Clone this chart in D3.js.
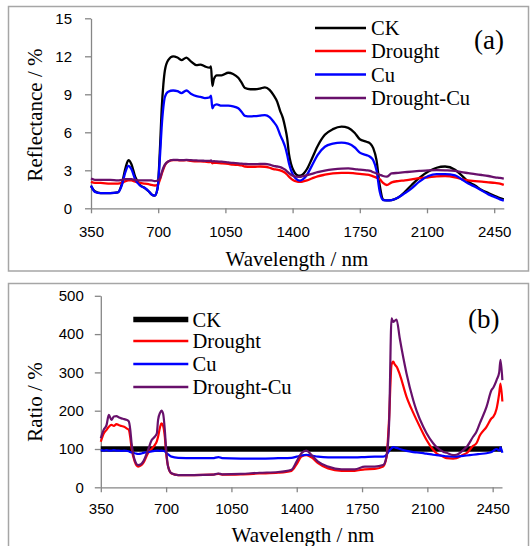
<!DOCTYPE html>
<html>
<head>
<meta charset="utf-8">
<script src="https://cdn.jsdelivr.net/npm/d3@7"></script>
<style>
  html, body { margin: 0; padding: 0; background: #fff; }
  svg { display: block; }
  .tick text { font-family: "Liberation Sans", Arial, sans-serif; font-size: 15px; fill: #000; }
  .axis path, .axis line { stroke: #868686; stroke-width: 1.3; }
  .serif { font-family: "Liberation Serif", "Times New Roman", serif; fill: #000; }
</style>
</head>
<body>
<script>
// ---------- DATA ----------
const seriesNames = ["CK", "Drought", "Cu", "Drought-Cu"];
const seriesColors = ["#000000", "#ff0000", "#0000ff", "#68106b"];

const xTicks = [350, 700, 1050, 1400, 1750, 2100, 2450];
const yTicksA = [0, 3, 6, 9, 12, 15];
const yTicksB = [0, 100, 200, 300, 400, 500];

// Panel (a): reflectance (%)
const wavelengthA = [350,370,400,450,490,510,530,545,560,580,605,630,650,665,682,697,710,718,727,735,752,778,800,821,847,870,899,920,943,968,975,982,990,1005,1030,1065,1090,1117,1135,1152,1180,1205,1230,1256,1280,1300,1320,1335,1350,1361,1372,1381,1392,1404,1420,1438,1455,1475,1500,1530,1568,1610,1655,1690,1724,1750,1785,1805,1820,1837,1854,1871,1890,1916,1950,1985,2020,2060,2107,2150,2194,2246,2280,2315,2350,2385,2420,2454,2480,2500];
const reflCK = [1.75,1.35,1.2,1.2,1.25,1.9,3.2,3.8,3.5,2.5,1.85,1.6,1.35,1.1,1.0,1.6,5.0,7.8,9.8,10.9,11.7,12.0,11.9,11.7,11.9,11.6,11.3,11.35,11.2,11.1,11.2,9.65,10.2,10.5,10.5,10.7,10.6,10.3,9.9,9.5,9.4,9.4,9.45,9.55,9.35,8.95,8.4,7.7,7.1,6.4,5.5,4.3,3.5,3.0,2.65,2.57,2.7,3.1,3.9,4.9,5.8,6.25,6.45,6.35,5.95,5.45,5.26,5.1,4.75,3.8,1.8,0.7,0.62,0.65,0.85,1.3,1.84,2.4,2.9,3.2,3.3,3.05,2.6,2.1,1.8,1.44,1.2,0.97,0.8,0.7];
const reflDrought = [2.1,2.0,2.0,1.95,1.95,2.0,2.15,2.2,2.2,2.1,2.0,1.95,1.9,1.85,1.8,1.85,2.3,2.7,3.1,3.4,3.7,3.8,3.8,3.78,3.8,3.75,3.7,3.7,3.68,3.65,3.7,3.55,3.6,3.58,3.55,3.5,3.45,3.42,3.38,3.3,3.28,3.28,3.3,3.28,3.2,3.1,3.05,3.0,2.9,2.8,2.65,2.5,2.35,2.22,2.12,2.08,2.12,2.2,2.35,2.52,2.65,2.76,2.8,2.8,2.76,2.72,2.66,2.6,2.52,2.42,2.3,2.0,1.84,2.05,2.15,2.2,2.28,2.38,2.45,2.52,2.55,2.45,2.3,2.2,2.15,2.1,2.05,2.0,1.95,1.85];
const reflCu = [1.8,1.3,1.2,1.2,1.25,1.8,2.9,3.35,3.1,2.3,1.8,1.6,1.35,1.1,1.0,1.6,4.3,6.4,8.0,8.8,9.2,9.3,9.25,9.1,9.3,9.05,8.85,8.8,8.7,8.75,8.9,7.9,8.1,8.2,8.1,8.1,8.05,7.9,7.6,7.3,7.25,7.28,7.32,7.36,7.2,6.85,6.4,5.8,5.3,4.86,4.2,3.55,3.0,2.6,2.3,2.18,2.3,2.65,3.35,4.2,4.86,5.1,5.18,5.1,4.8,4.4,4.2,4.05,3.8,3.0,1.3,0.65,0.62,0.65,0.85,1.2,1.58,2.1,2.55,2.7,2.7,2.6,2.3,1.95,1.7,1.4,1.1,0.88,0.7,0.6];
const reflDroughtCu = [2.35,2.25,2.25,2.25,2.2,2.25,2.3,2.3,2.3,2.25,2.2,2.2,2.2,2.2,2.15,2.2,2.4,2.8,3.2,3.45,3.7,3.82,3.82,3.8,3.82,3.8,3.78,3.76,3.75,3.74,3.78,3.7,3.72,3.7,3.68,3.62,3.58,3.55,3.52,3.5,3.48,3.48,3.5,3.5,3.45,3.35,3.3,3.25,3.15,3.05,2.9,2.78,2.65,2.55,2.5,2.48,2.55,2.62,2.72,2.85,2.98,3.08,3.14,3.15,3.1,3.05,3.0,2.95,2.85,2.75,2.65,2.55,2.5,2.75,2.8,2.85,2.9,2.95,3.0,3.02,3.0,2.95,2.85,2.78,2.7,2.63,2.55,2.45,2.4,2.35];

// Panel (b): ratio to CK (%)
const ratioCKWavelength = [350, 2500];
const ratioCK = [100, 100];
const wavelengthB = [350,365,381,393,407,420,434,448,461,475,488,500,508,515,532,550,565,577,603,622,639,650,657,668,675,684,693,700,711,729,765,850,950,980,1000,1100,1200,1300,1372,1399,1425,1452,1479,1514,1568,1640,1711,1765,1818,1863,1881,1895,1908,1917,1926,1935,1952,1988,2024,2042,2078,2095,2131,2149,2185,2203,2238,2256,2292,2310,2345,2363,2381,2417,2444,2453,2471,2485,2492,2502];
const ratioDrought = [119,140,150,158,163,160,165,162,160,158,154,150,130,102,67,54,57,63,89,100,110,120,132,158,167,160,132,90,54,36,32,32,33,35,33,34,36,38,43,60,80,84,78,63,49,43,43,47,48,54,79,180,320,328,320,315,295,237,195,176,140,124,98,89,80,76,75,76,85,89,108,115,135,158,180,184,205,245,271,224];
const ratioCu = [97,96,97,96,96,97,96,96,95,96,95,94,92,91,89,87,88,90,92,94,95,96,96,95,96,95,94,90,86,80,77,76,76,79,76,75,75,76,77,80,83,85,83,80,78,78,78,79,80,80,85,95,102,105,104,103,100,95,92,91,89,88,85,84,82,81,80,80,82,83,85,86,87,89,92,95,100,96,104,90];
const ratioDroughtCu = [128,150,163,189,176,185,186,182,180,178,176,172,150,115,71,58,60,67,97,123,132,140,176,195,200,192,150,100,53,36.5,32,32,33,36,34,35,38,40,46,67,89,96,84,67,54,47,47,54,54,58,80,167,441,432,435,438,389,298,228,200,158,142,115,105,93,90,84,85,97,105,132,145,167,210,254,260,280,300,333,280];

// ---------- DRAW ----------
const W = 531, H = 546;
const svg = d3.select("body").append("svg").attr("width", W).attr("height", H);

// panel boxes
svg.append("rect").attr("x", 8.5).attr("y", 6.5).attr("width", 520).attr("height", 264.5)
  .attr("fill", "none").attr("stroke", "#a6a6a6").attr("stroke-width", 1.5);
svg.append("rect").attr("x", 8.5).attr("y", 283.5).attr("width", 520).attr("height", 270)
  .attr("fill", "none").attr("stroke", "#a6a6a6").attr("stroke-width", 1.5);

function panel(cfg) {
  const x = d3.scaleLinear().domain([350, 2500]).range([cfg.x0, cfg.x1]);
  const y = d3.scaleLinear().domain(cfg.yDomain).range([cfg.y0, cfg.y1]);
  const g = svg.append("g");

  g.append("g").attr("class", "axis").attr("transform", `translate(0,${cfg.y0})`)
    .call(d3.axisBottom(x).tickValues(xTicks).tickFormat(d3.format("d"))
      .tickSize(5).tickSizeOuter(0).tickPadding(cfg.xPad));
  g.append("g").attr("class", "axis").attr("transform", `translate(${cfg.x0},0)`)
    .call(d3.axisLeft(y).tickValues(cfg.yTicks).tickFormat(d3.format("d"))
      .tickSize(6).tickSizeOuter(0).tickPadding(cfg.yPad));

  const line = d3.line().x(d => x(d[0])).y(d => y(d[1])).curve(d3.curveMonotoneX);
  cfg.series.forEach((s, i) => {
    const pts = s.wl.map((w, k) => [w, s.v[k]]);
    g.append("path").datum(pts).attr("d", line)
      .attr("fill", "none").attr("stroke", seriesColors[i])
      .attr("stroke-width", s.width).attr("stroke-linejoin", "round");
  });

  // axis titles
  g.append("text").attr("class", "serif").attr("font-size", 21)
    .attr("text-anchor", "middle").attr("x", cfg.xTitleX).attr("y", cfg.xTitleY)
    .text("Wavelength / nm");
  g.append("text").attr("class", "serif").attr("font-size", 21)
    .attr("text-anchor", "middle")
    .attr("transform", `translate(${cfg.yTitleX},${cfg.yTitleY}) rotate(-90)`)
    .text(cfg.yTitle);

  // legend
  seriesNames.forEach((name, i) => {
    const ly = cfg.legY[i];
    g.append("line").attr("x1", cfg.legX0).attr("x2", cfg.legX1).attr("y1", ly).attr("y2", ly)
      .attr("stroke", seriesColors[i]).attr("stroke-width", cfg.legWidths[i]);
    g.append("text").attr("class", "serif").attr("font-size", 20.5)
      .attr("x", cfg.legTextX).attr("y", ly + 7.2).text(name);
  });

  g.append("text").attr("class", "serif").attr("font-size", 27)
    .attr("x", cfg.tagX).attr("y", cfg.tagY).text(cfg.tag);
}

panel({
  x0: 91, x1: 503.8, y0: 208.3, y1: 18.3, yDomain: [0, 15], yTicks: yTicksA,
  xPad: 13, yPad: 13,
  series: [
    { wl: wavelengthA, v: reflCK, width: 2.3 },
    { wl: wavelengthA, v: reflDrought, width: 2.3 },
    { wl: wavelengthA, v: reflCu, width: 2.3 },
    { wl: wavelengthA, v: reflDroughtCu, width: 2.3 }
  ],
  xTitleX: 297, xTitleY: 265.5, yTitleX: 42, yTitleY: 115, yTitle: "Reflectance / %",
  legX0: 315, legX1: 366, legY: [28, 51, 74.5, 98], legWidths: [2.6, 2.6, 2.6, 2.6], legTextX: 371,
  tag: "(a)", tagX: 474, tagY: 49
});

panel({
  x0: 100.8, x1: 502, y0: 487.3, y1: 295.8, yDomain: [0, 500], yTicks: yTicksB,
  xPad: 11, yPad: 11,
  series: [
    { wl: ratioCKWavelength, v: ratioCK, width: 5.5 },
    { wl: wavelengthB, v: ratioDrought, width: 2.2 },
    { wl: wavelengthB, v: ratioCu, width: 2.2 },
    { wl: wavelengthB, v: ratioDroughtCu, width: 2.2 }
  ],
  xTitleX: 303, xTitleY: 541.5, yTitleX: 42, yTitleY: 402, yTitle: "Ratio / %",
  legX0: 133.3, legX1: 188.3, legY: [319.5, 341, 364, 387], legWidths: [5.5, 2.6, 2.6, 2.6], legTextX: 192.5,
  tag: "(b)", tagX: 468, tagY: 328
});
</script>
</body>
</html>
